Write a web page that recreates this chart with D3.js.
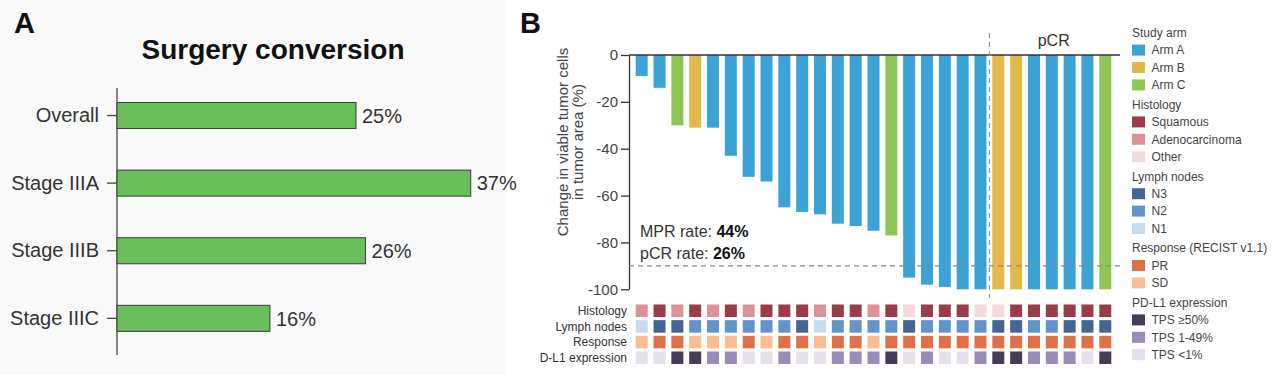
<!DOCTYPE html>
<html>
<head>
<meta charset="utf-8">
<script src="https://cdn.jsdelivr.net/npm/d3@7"></script>
<style>
  body { margin: 0; background: #fff; }
  svg { font-family: "Liberation Sans", Arial, sans-serif; display: block; }
</style>
</head>
<body>
<svg id="chart" width="1279" height="375"></svg>
<script>
// ---- panel A data
const stageCats = ['Overall', 'Stage IIIA', 'Stage IIIB', 'Stage IIIC'];
const conversionPct = [25, 37, 26, 16];

// ---- panel B data (one entry per patient, left to right)
const changeValues = [-9, -14, -30, -31, -31, -43, -52, -54, -65, -67, -68, -72, -73, -75, -77,
  -95, -98, -99, -100, -100, -100, -100, -100, -100, -100, -100, -100];
const studyArm = ['A','A','C','B','A','A','A','A','A','A','A','A','A','A','C',
  'A','A','A','A','A','B','B','A','A','A','A','C'];
const histology = ['Adenocarcinoma','Squamous','Adenocarcinoma','Squamous','Adenocarcinoma','Squamous',
  'Adenocarcinoma','Squamous','Squamous','Squamous','Adenocarcinoma','Squamous','Squamous','Adenocarcinoma',
  'Squamous','Other','Squamous','Squamous','Squamous','Other','Other','Squamous','Squamous','Squamous',
  'Squamous','Squamous','Squamous'];
const lymphNodes = ['N1','N3','N3','N2','N2','N2','N2','N2','N2','N3','N1','N2','N2','N2','N2',
  'N3','N2','N2','N2','N2','N3','N3','N2','N2','N3','N3','N3'];
const response = ['SD','PR','PR','SD','SD','SD','PR','SD','PR','PR','SD','PR','PR','SD','PR',
  'PR','PR','PR','PR','PR','PR','PR','PR','PR','PR','PR','PR'];
const pdl1 = ['TPS <1%','TPS <1%','TPS ≥50%','TPS ≥50%','TPS 1-49%','TPS 1-49%','TPS <1%','TPS <1%',
  'TPS 1-49%','TPS <1%','TPS <1%','TPS 1-49%','TPS 1-49%','TPS 1-49%','TPS ≥50%','TPS <1%','TPS 1-49%',
  'TPS <1%','TPS <1%','TPS 1-49%','TPS ≥50%','TPS ≥50%','TPS 1-49%','TPS 1-49%','TPS 1-49%','TPS <1%','TPS ≥50%'];
const yTicks = [0, -20, -40, -60, -80, -100];
const mprThreshold = -90;
const firstPcrIndex = 20;

const armColor = d3.scaleOrdinal(['A','B','C'], ['#3ba3d5','#e4b94b','#8ec757']);
const histColor = d3.scaleOrdinal(['Squamous','Adenocarcinoma','Other'], ['#9a3d48','#dc9397','#f3dadc']);
const lymphColor = d3.scaleOrdinal(['N3','N2','N1'], ['#456693','#6294ca','#c7dcf1']);
const respColor = d3.scaleOrdinal(['PR','SD'], ['#de7148','#fbbe94']);
const pdColor = d3.scaleOrdinal(['TPS ≥50%','TPS 1-49%','TPS <1%'], ['#463c58','#9a8bb8','#e5e0ec']);

const svg = d3.select('#chart');

// ================= Panel A =================
svg.append('rect').attr('x', 0).attr('y', 0).attr('width', 505).attr('height', 375).attr('fill', '#f9f9f9');

svg.append('text').attr('x', 14).attr('y', 33).text('A')
  .attr('font-size', 29).attr('font-weight', 'bold').attr('fill', '#111');
svg.append('text').attr('x', 273).attr('y', 59).attr('text-anchor', 'middle').text('Surgery conversion')
  .attr('font-size', 28).attr('font-weight', 'bold').attr('fill', '#111');

const xA = d3.scaleLinear().domain([0, 40]).range([117, 117 + 382.4]);
const yA = d3.scaleBand().domain(stageCats).range([88, 355])
  .paddingInner(0.615).paddingOuter(0.282).align(0.38);

const gA = svg.append('g');
gA.append('line').attr('x1', 117).attr('x2', 117).attr('y1', 88).attr('y2', 355)
  .attr('stroke', '#444').attr('stroke-width', 1.3);

const axA = gA.append('g').attr('transform', 'translate(117,0)')
  .call(d3.axisLeft(yA).tickSize(10).tickPadding(8).tickSizeOuter(0));
axA.select('.domain').remove();
axA.selectAll('line').attr('stroke', '#444').attr('stroke-width', 1.3);
axA.selectAll('text').attr('font-size', 20).attr('fill', '#333').attr('font-family', '"Liberation Sans", Arial, sans-serif');

const rowsA = stageCats.map((c, i) => ({cat: c, v: conversionPct[i]}));
gA.selectAll('.barA').data(rowsA).join('rect')
  .attr('class', 'barA')
  .attr('x', xA(0))
  .attr('y', d => yA(d.cat))
  .attr('width', d => xA(d.v) - xA(0))
  .attr('height', yA.bandwidth())
  .attr('fill', '#6abe5b')
  .attr('stroke', '#3d3d3d')
  .attr('stroke-width', 1);
gA.selectAll('.valA').data(rowsA).join('text')
  .attr('class', 'valA')
  .attr('x', d => xA(d.v) + 6)
  .attr('y', d => yA(d.cat) + yA.bandwidth() / 2)
  .attr('dy', '0.36em')
  .attr('font-size', 20).attr('fill', '#333')
  .text(d => d.v + '%');

// ================= Panel B =================
svg.append('text').attr('x', 520).attr('y', 33).text('B')
  .attr('font-size', 29).attr('font-weight', 'bold').attr('fill', '#111');

const idx = d3.range(changeValues.length);
const xB = d3.scaleBand().domain(idx).range([629, 1118]).paddingInner(0.327).paddingOuter(0.376);
const yB = d3.scaleLinear().domain([-100, 0]).range([289.3, 55]);

const gB = svg.append('g');

gB.selectAll('.barB').data(idx).join('rect')
  .attr('class', 'barB')
  .attr('x', i => xB(i))
  .attr('y', yB(0))
  .attr('width', xB.bandwidth())
  .attr('height', i => yB(changeValues[i]) - yB(0))
  .attr('fill', i => armColor(studyArm[i]));

// y axis (plain hyphen for negatives, like the original)
const axB = gB.append('g').attr('transform', 'translate(629,0)')
  .call(d3.axisLeft(yB).tickValues(yTicks).tickFormat(d => String(d)).tickSize(8).tickPadding(3).tickSizeOuter(0));
axB.select('.domain').attr('stroke', '#333').attr('stroke-width', 1.3);
axB.selectAll('line').attr('stroke', '#333').attr('stroke-width', 1.3);
axB.selectAll('text').attr('font-size', 15).attr('fill', '#444').attr('font-family', '"Liberation Sans", Arial, sans-serif');

// zero line
gB.append('line').attr('x1', 629).attr('x2', 1120).attr('y1', yB(0)).attr('y2', yB(0))
  .attr('stroke', '#333').attr('stroke-width', 1.5);

// MPR threshold dashed line
gB.append('line').attr('x1', 629).attr('x2', 1120).attr('y1', yB(mprThreshold)).attr('y2', yB(mprThreshold))
  .attr('stroke', '#888').attr('stroke-width', 1.2).attr('stroke-dasharray', '5,4');

// pCR separator
const sepX = (xB(firstPcrIndex - 1) + xB.bandwidth() + xB(firstPcrIndex)) / 2;
gB.append('line').attr('x1', sepX).attr('x2', sepX).attr('y1', 33).attr('y2', 298)
  .attr('stroke', '#999').attr('stroke-width', 1.2).attr('stroke-dasharray', '5,4');
gB.append('text').attr('x', (sepX + 1120) / 2 - 1).attr('y', 46).attr('text-anchor', 'middle')
  .attr('font-size', 16).attr('fill', '#333').text('pCR');

// y title
const yTitle = gB.append('text').attr('transform', 'translate(568,142) rotate(-90)')
  .attr('text-anchor', 'middle').attr('font-size', 15).attr('fill', '#444');
yTitle.append('tspan').attr('x', 0).attr('y', 0).text('Change in viable tumor cells');
yTitle.append('tspan').attr('x', 0).attr('y', 15).text('in tumor area (%)');

// rates
const t1 = gB.append('text').attr('x', 640).attr('y', 237).attr('font-size', 16).attr('fill', '#333');
t1.append('tspan').text('MPR rate: ');
t1.append('tspan').attr('font-weight', 'bold').attr('fill', '#111').text('44%');
const t2 = gB.append('text').attr('x', 640).attr('y', 259).attr('font-size', 16).attr('fill', '#333');
t2.append('tspan').text('pCR rate: ');
t2.append('tspan').attr('font-weight', 'bold').attr('fill', '#111').text('26%');

// annotation tiles
const tileRows = [
  {label: 'Histology', vals: histology, color: histColor},
  {label: 'Lymph nodes', vals: lymphNodes, color: lymphColor},
  {label: 'Response', vals: response, color: respColor},
  {label: 'D-L1 expression', vals: pdl1, color: pdColor}
];
const yRow = d3.scaleBand().domain(tileRows.map(r => r.label)).range([304.5, 364]).paddingInner(0.2).paddingOuter(0);

const gTiles = svg.append('g');
tileRows.forEach(r => {
  gTiles.append('text').attr('x', 627).attr('y', yRow(r.label) + yRow.bandwidth() / 2)
    .attr('dy', '0.35em').attr('text-anchor', 'end').attr('font-size', 12).attr('fill', '#333').text(r.label);
  gTiles.selectAll(null).data(idx).join('rect')
    .attr('x', i => xB(i))
    .attr('y', yRow(r.label))
    .attr('width', xB.bandwidth())
    .attr('height', yRow.bandwidth())
    .attr('fill', i => r.color(r.vals[i]));
});

// legend
const legendGroups = [
  {title: 'Study arm', scale: armColor, labels: ['Arm A', 'Arm B', 'Arm C']},
  {title: 'Histology', scale: histColor, labels: histColor.domain()},
  {title: 'Lymph nodes', scale: lymphColor, labels: lymphColor.domain()},
  {title: 'Response (RECIST v1.1)', scale: respColor, labels: respColor.domain()},
  {title: 'PD-L1 expression', scale: pdColor, labels: pdColor.domain()}
];
const gLeg = svg.append('g');
let ly = 32.7;
legendGroups.forEach(g => {
  gLeg.append('text').attr('x', 1132).attr('y', ly).attr('dy', '0.35em')
    .attr('font-size', 12).attr('fill', '#444').text(g.title);
  g.scale.domain().forEach((key, k) => {
    ly += 17.4;
    gLeg.append('rect').attr('x', 1132).attr('y', ly - 5.5).attr('width', 13).attr('height', 11)
      .attr('fill', g.scale(key));
    gLeg.append('text').attr('x', 1151.5).attr('y', ly).attr('dy', '0.35em')
      .attr('font-size', 12).attr('fill', '#444').text(g.labels[k]);
  });
  ly += 19.6;
});
</script>
</body>
</html>
